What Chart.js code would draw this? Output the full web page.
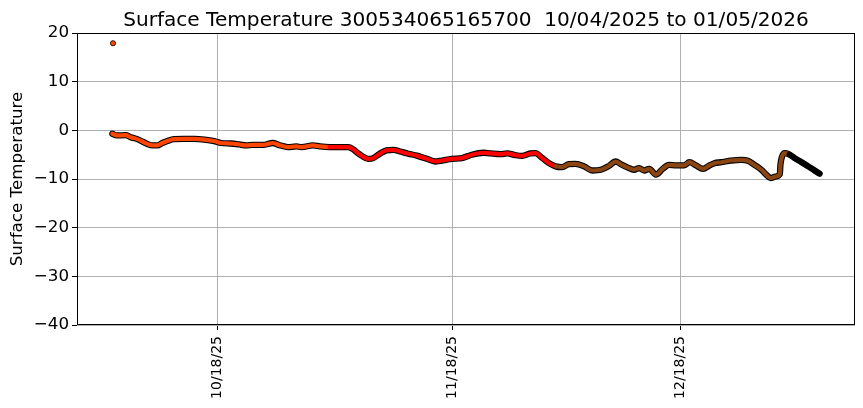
<!DOCTYPE html>
<html>
<head>
<meta charset="utf-8">
<script src="https://cdn.jsdelivr.net/npm/chart.js@4.4.1/dist/chart.umd.min.js"></script>
<style>
    html, body { margin: 0; padding: 0; background: #fff; }
    #wrap { width: 863px; height: 408px; }
</style>
</head>
<body>
<div id="wrap"><canvas id="tempChart" width="863" height="408"></canvas></div>
<script>
// Lecturas (UTC) y temperatura de superficie
const times = [
    '2025-10-04 04:00', '2025-10-04 18:00', '2025-10-05 22:00', '2025-10-06 14:00', '2025-10-07 11:00',
    '2025-10-08 03:00', '2025-10-08 19:00', '2025-10-09 11:00', '2025-10-10 02:00', '2025-10-10 18:00',
    '2025-10-11 10:00', '2025-10-12 07:00', '2025-10-13 15:00', '2025-10-14 23:00', '2025-10-16 07:00',
    '2025-10-17 14:00', '2025-10-18 12:00', '2025-10-19 19:00', '2025-10-20 22:00', '2025-10-21 19:00',
    '2025-10-22 16:00', '2025-10-24 00:00', '2025-10-25 07:00', '2025-10-26 05:00', '2025-10-27 07:00',
    '2025-10-28 10:00', '2025-10-29 02:00', '2025-10-30 15:00', '2025-10-31 12:00', '2025-11-01 19:00',
    '2025-11-04 06:00', '2025-11-04 22:00', '2025-11-05 13:00', '2025-11-06 00:00', '2025-11-06 21:00',
    '2025-11-07 13:00', '2025-11-08 10:00', '2025-11-09 07:00', '2025-11-10 05:00', '2025-11-11 02:00',
    '2025-11-12 04:00', '2025-11-13 07:00', '2025-11-14 15:00', '2025-11-15 17:00', '2025-11-16 14:00',
    '2025-11-17 22:00', '2025-11-19 06:00', '2025-11-20 13:00', '2025-11-22 02:00', '2025-11-23 00:00',
    '2025-11-24 07:00', '2025-11-25 05:00', '2025-11-26 07:00', '2025-11-27 04:00', '2025-11-28 06:00',
    '2025-11-28 22:00', '2025-11-29 20:00', '2025-11-30 17:00', '2025-12-01 14:00', '2025-12-02 11:00',
    '2025-12-03 08:00', '2025-12-04 05:00', '2025-12-05 08:00', '2025-12-06 10:00', '2025-12-07 13:00',
    '2025-12-08 15:00', '2025-12-09 12:00', '2025-12-10 04:00', '2025-12-11 01:00', '2025-12-11 22:00',
    '2025-12-12 14:00', '2025-12-13 06:00', '2025-12-13 22:00', '2025-12-14 19:00', '2025-12-15 17:00',
    '2025-12-16 13:00', '2025-12-17 11:00', '2025-12-18 13:00', '2025-12-19 05:00', '2025-12-20 02:00',
    '2025-12-21 00:00', '2025-12-21 21:00', '2025-12-22 12:00', '2025-12-23 10:00', '2025-12-24 17:00',
    '2025-12-26 01:00', '2025-12-26 22:00', '2025-12-27 19:00', '2025-12-28 17:00', '2025-12-29 08:00',
    '2025-12-29 22:00', '2025-12-30 13:00', '2025-12-31 03:00', '2025-12-31 05:00', '2025-12-31 10:00',
    '2025-12-31 19:00', '2026-01-01 07:00', '2026-01-02 02:00', '2026-01-03 00:00', '2026-01-03 21:00',
    '2026-01-04 18:00', '2026-01-05 09:00'
];
const temps = [
    -0.7, -1.05, -1.0, -1.4, -1.8,
    -2.3, -2.8, -3.1, -3.1, -2.6,
    -2.2, -1.8, -1.75, -1.75, -1.9,
    -2.2, -2.6, -2.7, -2.9, -3.1,
    -3.0, -3.0, -2.6, -3.05, -3.45,
    -3.3, -3.45, -3.1, -3.3, -3.45,
    -3.45, -3.9, -4.7, -5.2, -5.85,
    -5.7, -4.8, -4.1, -4.0, -4.35,
    -4.8, -5.2, -5.85, -6.4, -6.2,
    -5.85, -5.7, -5.0, -4.6, -4.75,
    -4.9, -4.75, -5.1, -5.25, -4.75,
    -4.7, -5.7, -6.75, -7.4, -7.55,
    -6.95, -6.9, -7.4, -8.25, -8.1,
    -7.3, -6.4, -6.95, -7.6, -8.1,
    -7.75, -8.25, -7.9, -9.1, -7.9,
    -7.1, -7.2, -7.2, -6.55, -7.2,
    -7.9, -7.2, -6.75, -6.55, -6.2,
    -6.05, -6.25, -7.1, -8.1, -9.1,
    -9.8, -9.5, -9.0, -7.1, -5.4,
    -4.7, -4.9, -5.7, -6.55, -7.4,
    -8.3, -8.9
];
// Lectura aislada al inicio
const spikeTimes = ['2025-10-04 06:00'];
const spikeTemps = [17.9];

const tickDates = ['2025-10-18', '2025-11-18', '2025-12-18'];
const yMin = -40;
const yMax = 20;
const yStep = 10;

// Color por mes (getUTCMonth)
const monthColors = { 9: 'orangered', 10: 'red', 11: 'saddlebrown', 0: 'black' };

function toMs(s) {
    const [d, t] = s.split(' ');
    const [y, m, dd] = d.split('-').map(Number);
    const h = t ? Number(t.split(':')[0]) : 0;
    return Date.UTC(y, m - 1, dd, h);
}

function colorFor(ms) {
    return monthColors[new Date(ms).getUTCMonth()];
}

function fmtDate(ms) {
    const d = new Date(ms);
    const mm = String(d.getUTCMonth() + 1).padStart(2, '0');
    const dd = String(d.getUTCDate()).padStart(2, '0');
    const yy = String(d.getUTCFullYear()).slice(2);
    return mm + '/' + dd + '/' + yy;
}

document.addEventListener('DOMContentLoaded', function() {
    const points = times.map((t, i) => ({ x: toMs(t), y: temps[i] }));
    const spike = spikeTimes.map((t, i) => ({ x: toMs(t), y: spikeTemps[i] }));

    // margen del 5% como matplotlib
    const allX = points.concat(spike).map(p => p.x);
    const x0 = Math.min(...allX);
    const x1 = Math.max(...allX);
    const pad = (x1 - x0) * 0.05;

    const font = "'DejaVu Sans', sans-serif";

    // Marco negro alrededor del área
    const framePlugin = {
        id: 'frame',
        afterDraw(chart) {
            const { ctx, chartArea: a } = chart;
            ctx.save();
            ctx.strokeStyle = '#000';
            ctx.lineWidth = 1;
            ctx.strokeRect(Math.round(a.left) + 0.5, Math.round(a.top) + 0.5,
                Math.round(a.right - a.left) - 1, Math.round(a.bottom - a.top) - 1);
            ctx.restore();
        }
    };

    const ctx = document.getElementById('tempChart').getContext('2d');
    const tempChart = new Chart(ctx, {
        type: 'line',
        data: {
            datasets: [
                {
                    label: 'spike',
                    data: spike,
                    showLine: false,
                    pointRadius: 2.6,
                    pointBackgroundColor: spike.map(p => colorFor(p.x)),
                    pointBorderColor: '#000',
                    pointBorderWidth: 0.8,
                    order: 0
                },
                {
                    label: 'Surface Temperature',
                    data: points,
                    borderWidth: 4.2,
                    borderCapStyle: 'round',
                    borderJoinStyle: 'round',
                    cubicInterpolationMode: 'monotone',
                    pointRadius: 0,
                    segment: {
                        borderColor: c => colorFor(c.p0.parsed.x)
                    },
                    borderColor: 'orangered',
                    order: 1
                },
                {
                    label: 'edge',
                    data: points,
                    borderWidth: 6.3,
                    borderCapStyle: 'round',
                    borderJoinStyle: 'round',
                    cubicInterpolationMode: 'monotone',
                    pointRadius: 0,
                    borderColor: '#000',
                    order: 2
                }
            ]
        },
        options: {
            responsive: false,
            animation: false,
            layout: { padding: { left: 0, right: 8, top: 0, bottom: 0 } },
            plugins: {
                legend: { display: false },
                tooltip: { enabled: false },
                title: {
                    display: true,
                    fullSize: false,
                    text: 'Surface Temperature 300534065165700  10/04/2025 to 01/05/2026',
                    color: '#000',
                    font: { family: font, size: 20.1, weight: 'normal' },
                    padding: { top: 8.5, bottom: 0.4 }
                }
            },
            scales: {
                x: {
                    type: 'linear',
                    min: x0 - pad,
                    max: x1 + pad,
                    afterBuildTicks: axis => {
                        axis.ticks = tickDates.map(d => ({ value: toMs(d) }));
                    },
                    afterFit: axis => { axis.height = 83; },
                    ticks: {
                        autoSkip: false,
                        minRotation: 90,
                        maxRotation: 90,
                        padding: 6,
                        color: '#000',
                        font: { family: font, size: 14 },
                        callback: v => fmtDate(v)
                    },
                    grid: { color: '#b0b0b0', lineWidth: 1, tickColor: '#000', tickLength: 5 },
                    border: { display: false }
                },
                y: {
                    min: yMin,
                    max: yMax,
                    afterFit: axis => { axis.width = 77; },
                    ticks: {
                        stepSize: yStep,
                        padding: 3,
                        color: '#000',
                        font: { family: font, size: 16.7 },
                        callback: v => String(v).replace('-', '\u2212')
                    },
                    grid: { color: '#b0b0b0', lineWidth: 1, tickColor: '#000', tickLength: 5 },
                    border: { display: false },
                    title: {
                        display: true,
                        text: 'Surface Temperature',
                        color: '#000',
                        font: { family: font, size: 16.7 },
                        padding: { top: 8, bottom: 0 }
                    }
                }
            }
        },
        plugins: [framePlugin]
    });
});
</script>
</body>
</html>
